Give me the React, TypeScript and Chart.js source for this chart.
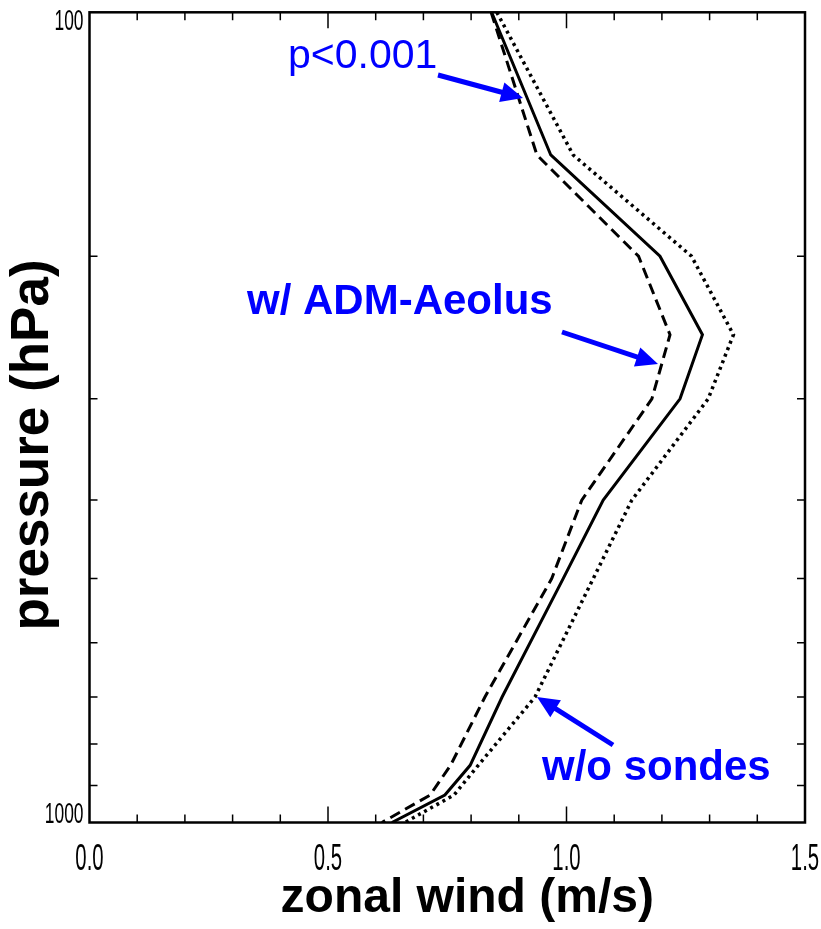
import { useEffect, useRef } from 'react';
import { Chart, registerables } from 'chart.js';

Chart.register(...registerables);

// pressure levels (hPa)
const pressureLevels = [100, 150, 200, 250, 300, 400, 500, 700, 850, 925, 1000];
// zonal wind (m/s) – solid line
const windSolid = [0.843, 0.967, 1.196, 1.285, 1.238, 1.077, 0.993, 0.865, 0.798, 0.745, 0.634];
// dashed line (w/ ADM-Aeolus)
const windAeolus = [0.842, 0.938, 1.151, 1.217, 1.179, 1.032, 0.969, 0.829, 0.757, 0.714, 0.613];
// dotted line (w/o sondes)
const windNoSondes = [0.854, 1.014, 1.262, 1.35, 1.297, 1.137, 1.056, 0.934, 0.815, 0.764, 0.661];

const xTickValues = [0.1, 0.2, 0.3, 0.4, 0.5, 0.6, 0.7, 0.8, 0.9, 1.0, 1.1, 1.2, 1.3, 1.4];
const xMajorValues = [0.5, 1.0];
const xLabelValues = [0, 0.5, 1.0, 1.5];
const xTickLabels = ['0.0', '0.5', '1.0', '1.5'];
const yTickValues = [200, 300, 400, 500, 600, 700, 800, 900];
const yLabelValues = [100, 1000];
const yTickLabels = ['100', '1000'];

const xTitle = 'zonal wind (m/s)';
const yTitle = 'pressure (hPa)';
const annotationTexts = ['p<0.001', 'w/ ADM-Aeolus', 'w/o sondes'];

const BLUE = '#0000ff';

function drawArrow(ctx: CanvasRenderingContext2D, x0: number, y0: number, x1: number, y1: number) {
  const ang = Math.atan2(y1 - y0, x1 - x0);
  const headLen = 22;
  const headW = 10;
  const bx = x1 - Math.cos(ang) * headLen;
  const by = y1 - Math.sin(ang) * headLen;
  ctx.save();
  ctx.strokeStyle = BLUE;
  ctx.fillStyle = BLUE;
  ctx.lineWidth = 5;
  ctx.lineCap = 'butt';
  ctx.beginPath();
  ctx.moveTo(x0, y0);
  ctx.lineTo(bx + Math.cos(ang) * 2, by + Math.sin(ang) * 2);
  ctx.stroke();
  ctx.beginPath();
  ctx.moveTo(x1, y1);
  ctx.lineTo(bx + Math.sin(ang) * headW, by - Math.cos(ang) * headW);
  ctx.lineTo(bx - Math.sin(ang) * headW, by + Math.cos(ang) * headW);
  ctx.closePath();
  ctx.fill();
  ctx.restore();
}

const framePlugin = {
  id: 'framePlugin',
  afterDatasetsDraw(chart: any) {
    const { ctx, chartArea } = chart;
    const { left, right, top, bottom } = chartArea;
    const xs = chart.scales.x;
    const ys = chart.scales.y;
    ctx.save();
    ctx.strokeStyle = '#000';
    ctx.lineWidth = 2.5;
    ctx.strokeRect(left, top, right - left, bottom - top);

    ctx.lineWidth = 1.5;
    ctx.beginPath();
    xTickValues.forEach((v) => {
      const px = xs.getPixelForValue(v);
      const len = xMajorValues.includes(v) ? 16 : 8;
      ctx.moveTo(px, bottom);
      ctx.lineTo(px, bottom - len);
      ctx.moveTo(px, top);
      ctx.lineTo(px, top + len);
    });
    yTickValues.forEach((v) => {
      const py = ys.getPixelForValue(v);
      ctx.moveTo(left, py);
      ctx.lineTo(left + 8, py);
      ctx.moveTo(right, py);
      ctx.lineTo(right - 8, py);
    });
    ctx.stroke();

    // tick labels (condensed)
    ctx.fillStyle = '#000';
    ctx.font = '37px "Liberation Sans", Arial, sans-serif';
    ctx.textAlign = 'center';
    ctx.textBaseline = 'alphabetic';
    xLabelValues.forEach((v, i) => {
      const px = xs.getPixelForValue(v);
      ctx.save();
      ctx.translate(px, bottom + 47);
      ctx.scale(0.55, 1);
      ctx.fillText(xTickLabels[i], 0, 0);
      ctx.restore();
    });
    ctx.font = '29px "Liberation Sans", Arial, sans-serif';
    ctx.textAlign = 'right';
    yLabelValues.forEach((v, i) => {
      const py = ys.getPixelForValue(v);
      ctx.save();
      const base = i === 0 ? py + 18 : py;
      ctx.translate(left - 6, base);
      ctx.scale(0.6, 1);
      ctx.fillText(yTickLabels[i], 0, 0);
      ctx.restore();
    });

    // axis titles
    ctx.font = 'bold 48px "Liberation Sans", Arial, sans-serif';
    ctx.textAlign = 'center';
    ctx.fillText(xTitle, (left + right) / 2 + 20, 912);
    ctx.save();
    ctx.translate(48, 445);
    ctx.rotate(-Math.PI / 2);
    ctx.font = 'bold 53px "Liberation Sans", Arial, sans-serif';
    ctx.fillText(yTitle, 0, 0);
    ctx.restore();

    // annotations
    ctx.fillStyle = BLUE;
    ctx.textAlign = 'left';
    ctx.font = '41px "Liberation Sans", Arial, sans-serif';
    ctx.fillText(annotationTexts[0], 288, 68);
    ctx.font = 'bold 42px "Liberation Sans", Arial, sans-serif';
    ctx.fillText(annotationTexts[1], 247, 314);
    ctx.fillText(annotationTexts[2], 542, 780);
    ctx.restore();

    drawArrow(ctx, 438, 75, 523, 98);
    drawArrow(ctx, 562, 332, 658, 364);
    drawArrow(ctx, 613, 745, 537, 697);
  },
};

export default function App() {
  const ref = useRef<HTMLCanvasElement | null>(null);
  useEffect(() => {
    document.body.style.margin = '0';
    const canvas = ref.current;
    if (!canvas) return;
    const mk = (vals: number[]) => vals.map((v, i) => ({ x: v, y: pressureLevels[i] }));
    const chart = new Chart(canvas, {
      type: 'scatter',
      data: {
        datasets: [
          {
            label: 'control',
            data: mk(windSolid),
            showLine: true,
            borderColor: '#000',
            borderWidth: 3,
            pointRadius: 0,
          },
          {
            label: 'w/ ADM-Aeolus',
            data: mk(windAeolus),
            showLine: true,
            borderColor: '#000',
            borderWidth: 3,
            borderDash: [11, 6],
            pointRadius: 0,
          },
          {
            label: 'w/o sondes',
            data: mk(windNoSondes),
            showLine: true,
            borderColor: '#000',
            borderWidth: 3.5,
            borderDash: [3, 4],
            pointRadius: 0,
          },
        ],
      },
      options: {
        animation: false,
        responsive: false,
        devicePixelRatio: 1,
        layout: { padding: { left: 89.5, top: 12.3, right: 16, bottom: 106.5 } },
        plugins: { legend: { display: false }, tooltip: { enabled: false } },
        scales: {
          x: { type: 'linear', min: 0, max: 1.5, display: false },
          y: { type: 'logarithmic', min: 100, max: 1000, reverse: true, display: false },
        },
      },
      plugins: [framePlugin],
    });
    return () => chart.destroy();
  }, []);
  return (
    <div style={{ width: 821, height: 929, background: '#fff' }}>
      <canvas ref={ref} width={821} height={929} />
    </div>
  );
}
